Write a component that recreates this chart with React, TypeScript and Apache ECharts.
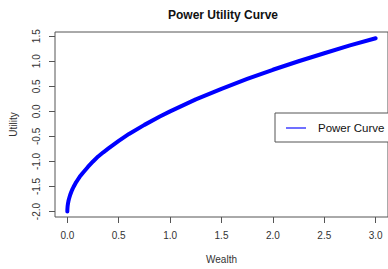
import React, { useEffect, useRef } from "react";
import * as echarts from "echarts";

const wealth = [0, 0.0005, 0.001, 0.002, 0.003, 0.005, 0.007, 0.01, 0.015, 0.02, 0.03, 0.04, 0.05, 0.06, 0.08, 0.1, 0.12, 0.15, 0.2, 0.25, 0.3, 0.35, 0.4, 0.5, 0.6, 0.75, 0.9, 1, 1.25, 1.5, 1.75, 2, 2.25, 2.5, 2.75, 3];
const utility = [-2, -1.955, -1.94, -1.911, -1.89, -1.86, -1.833, -1.8, -1.755, -1.72, -1.654, -1.6, -1.553, -1.51, -1.434, -1.37, -1.307, -1.23, -1.11, -1.0, -0.9, -0.817, -0.74, -0.59, -0.451, -0.27, -0.103, 0, 0.24, 0.45, 0.646, 0.83, 1.0, 1.16, 1.317, 1.46];
const xTicks = [0, 0.5, 1, 1.5, 2, 2.5, 3];
const yTicks = [-2, -1.5, -1, -0.5, 0, 0.5, 1, 1.5];
const seriesName = "Power Curve";

export default function App() {
  const ref = useRef<HTMLDivElement>(null);
  useEffect(() => {
    const chart = echarts.init(ref.current!, undefined, { renderer: "svg" });
    const axisCol = "#555";
    const font = "Liberation Sans, Arial, sans-serif";
    chart.setOption({
      animation: false,
      title: {
        text: "Power Utility Curve",
        left: 218,
        textAlign: "center",
        top: 4,
        textStyle: { fontFamily: font, fontSize: 12, fontWeight: "bold", color: "#111" },
      },
      grid: { left: 48, top: 32, width: 341, height: 193, show: true, borderColor: axisCol, borderWidth: 1, containLabel: false },
      xAxis: {
        type: "value",
        min: -0.12,
        max: 3.12,
        name: "Wealth",
        nameLocation: "middle",
        nameGap: 37,
        nameTextStyle: { fontFamily: font, fontSize: 10, color: "#333" },
        axisLine: { show: false, onZero: false },
        splitLine: { show: false },
        axisTick: { show: true, customValues: xTicks, length: 6, lineStyle: { color: axisCol } },
        axisLabel: { customValues: xTicks, fontFamily: font, fontSize: 10, color: "#333", margin: 13, formatter: (v: number) => v.toFixed(1) },
      },
      yAxis: {
        type: "value",
        min: -2.109,
        max: 1.584,
        name: "Utility",
        nameLocation: "middle",
        nameGap: 37,
        nameRotate: 90,
        nameTextStyle: { fontFamily: font, fontSize: 10, color: "#333" },
        axisLine: { show: false, onZero: false },
        splitLine: { show: false },
        axisTick: { show: true, customValues: yTicks, length: 6, lineStyle: { color: axisCol } },
        axisLabel: { customValues: yTicks, rotate: 90, fontFamily: font, fontSize: 10, color: "#333", margin: 14, formatter: (v: number) => v.toFixed(1) },
      },
      series: [
        {
          name: seriesName,
          type: "line",
          data: wealth.map((w, i) => [w, utility[i]]),
          showSymbol: false,
          smooth: false,
          lineStyle: { color: "#0000ff", width: 4, cap: "round", join: "round" },
        },
      ],
      graphic: [
        { type: "rect", shape: { x: 275, y: 113, width: 120, height: 29 }, style: { fill: "#fff", stroke: axisCol, lineWidth: 1 } },
        { type: "line", shape: { x1: 286, y1: 128, x2: 306, y2: 128 }, style: { stroke: "#7070ff", lineWidth: 2 } },
        { type: "text", x: 318, y: 128, style: { text: seriesName, fontFamily: font, fontSize: 11.5, fill: "#111", textVerticalAlign: "middle", verticalAlign: "middle" } },
      ],
    });
    return () => chart.dispose();
  }, []);
  return <div ref={ref} style={{ width: 388, height: 269, position: "absolute", left: 0, top: 0 }} />;
}
